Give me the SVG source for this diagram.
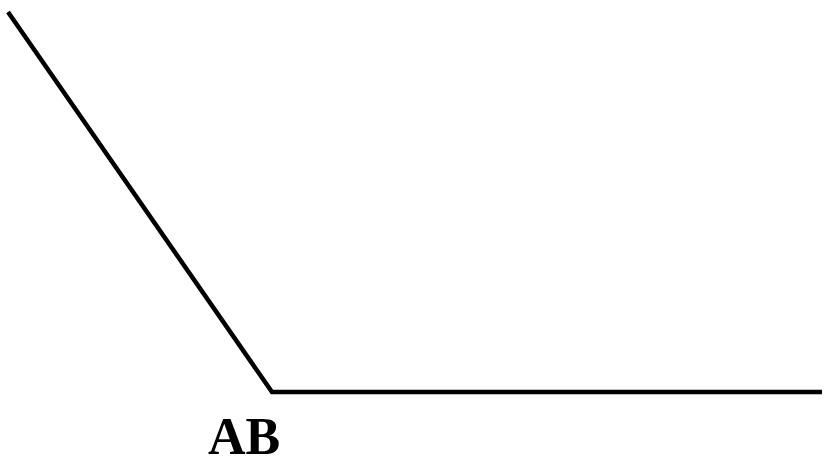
<svg xmlns="http://www.w3.org/2000/svg" width="829" height="471" viewBox="0 0 829 471">
<style>
.ln{fill:none;stroke:#000;stroke-width:4.5;stroke-linejoin:miter}
.lbl{font-family:"Liberation Serif","Times New Roman",serif;font-weight:bold;font-size:52px;fill:#000}
</style>
<rect width="829" height="471" fill="#fff"/>
<g id="connectors">
<polyline class="ln" points="8,12 272,392 822,392"/>
</g>
<g id="label-AB">
<text class="lbl" x="208" y="454">AB</text>
</g>
</svg>
